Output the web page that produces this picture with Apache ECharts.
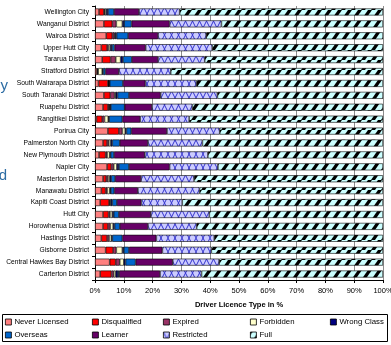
<!DOCTYPE html>
<html>
<head>
<meta charset="utf-8">
<script src="https://cdn.jsdelivr.net/npm/echarts@6/dist/echarts.min.js"></script>
<style>
  html, body { margin: 0; padding: 0; background: #fff; }
  #chart { width: 391px; height: 345px; }
</style>
</head>
<body>
<div id="chart"></div>
<script>
// Districts, top to bottom
const districts = [
  'Wellington City', 'Wanganui District', 'Wairoa District', 'Upper Hutt City',
  'Tararua District', 'Stratford District', 'South Wairarapa District',
  'South Taranaki District', 'Ruapehu District', 'Rangitikei District',
  'Porirua City', 'Palmerston North City', 'New Plymouth District', 'Napier City',
  'Masterton District', 'Manawatu District', 'Kapiti Coast District', 'Hutt City',
  'Horowhenua District', 'Hastings District', 'Gisborne District',
  'Central Hawkes Bay District', 'Carterton District'
];

// Share of each licence type, in %
const neverLicensed = [1.4, 3.1, 3.9, 2.2, 2.5, 0.7, 1.2, 3.1, 2.8, 0.5, 4.5, 2.8, 1.4, 4.2, 2.8, 2.2, 1.8, 2.8, 2.8, 2.2, 3.7, 5.1, 1.8];
const disqualified  = [1.7, 2.9, 2.1, 2.0, 2.9, 0.2, 3.3, 2.2, 1.7, 2.0, 3.8, 1.4, 2.3, 1.5, 1.1, 1.5, 3.1, 1.9, 1.7, 2.0, 2.6, 2.1, 3.9];
const expired       = [0.3, 1.4, 0.7, 0.5, 1.8, 0.2, 0.3, 1.5, 0.4, 0.8, 1.2, 0.6, 0.5, 0.8, 0.6, 0.5, 0.2, 0.5, 0.8, 0.7, 1.1, 1.4, 0.8];
const forbidden     = [0.5, 2.1, 0.3, 0.6, 1.7, 1.4, 0.0, 0.4, 0.2, 1.3, 1.0, 0.7, 0.9, 1.1, 0.6, 0.9, 0.4, 0.8, 1.0, 0.8, 2.1, 1.4, 0.7];
const wrongClass    = [0.6, 0.6, 0.5, 0.6, 0.8, 0.3, 0.3, 0.6, 0.4, 0.3, 0.4, 0.5, 0.3, 0.7, 0.5, 0.4, 0.5, 0.5, 0.5, 0.3, 0.5, 0.6, 0.8];
const overseas      = [2.1, 2.6, 4.0, 0.9, 3.1, 0.8, 4.6, 4.0, 4.8, 4.6, 1.7, 2.6, 1.2, 3.5, 1.4, 1.2, 1.6, 1.8, 1.8, 3.5, 1.8, 3.5, 0.4];
const learner       = [8.7, 13.2, 10.4, 10.8, 9.1, 4.7, 7.8, 11.0, 9.5, 6.2, 12.4, 9.8, 10.7, 14.1, 9.0, 8.2, 8.5, 11.1, 9.8, 11.8, 11.6, 12.9, 14.2];
const restricted    = [14.1, 18.0, 16.7, 23.1, 16.2, 18.0, 17.7, 19.7, 14.0, 17.0, 18.3, 18.9, 21.9, 16.8, 18.4, 21.4, 14.2, 20.3, 16.9, 20.1, 17.0, 16.1, 14.4];
const full          = [70.6, 56.1, 61.4, 59.3, 61.9, 73.7, 64.8, 57.5, 66.2, 67.3, 56.7, 62.7, 60.8, 57.3, 65.6, 63.7, 69.7, 60.3, 64.7, 58.6, 59.6, 56.9, 63.0];

const xTicks = [0, 10, 20, 30, 40, 50, 60, 70, 80, 90, 100];

const FONT = '"Liberation Sans", Arial, sans-serif';

// Fill patterns: lattice for Restricted, slanted stripes for Full
function latticePattern() {
  const c = document.createElement('canvas');
  c.width = 14; c.height = 14;
  const g = c.getContext('2d');
  g.fillStyle = '#CCCCFF';
  g.fillRect(0, 0, 14, 14);
  g.strokeStyle = '#3333CC';
  g.lineWidth = 1;
  g.beginPath();
  g.moveTo(0, 0); g.lineTo(7, 14); g.lineTo(14, 0);
  g.moveTo(0, 14); g.lineTo(7, 0); g.lineTo(14, 14);
  g.stroke();
  return c;
}
function stripePattern() {
  const c = document.createElement('canvas');
  c.width = 10; c.height = 10;
  const g = c.getContext('2d');
  g.fillStyle = '#CCFFFF';
  g.fillRect(0, 0, 10, 10);
  g.fillStyle = '#000';
  for (let k = -1; k <= 1; k++) {
    const o = k * 10;
    g.beginPath();
    g.moveTo(o + 1, 10); g.lineTo(o + 5, 10); g.lineTo(o + 12, 0); g.lineTo(o + 8, 0);
    g.closePath();
    g.fill();
  }
  return c;
}

const seriesDefs = [
  { name: 'Never Licensed', data: neverLicensed, color: '#FF8080' },
  { name: 'Disqualified',   data: disqualified,  color: '#FF0000' },
  { name: 'Expired',        data: expired,       color: '#993366' },
  { name: 'Forbidden',      data: forbidden,     color: '#FFFFCC' },
  { name: 'Wrong Class',    data: wrongClass,    color: '#000080' },
  { name: 'Overseas',       data: overseas,      color: '#0066CC' },
  { name: 'Learner',        data: learner,       color: '#660066' },
  { name: 'Restricted',     data: restricted,    color: { image: latticePattern(), repeat: 'repeat' } },
  { name: 'Full',           data: full,          color: { image: stripePattern(), repeat: 'repeat' } }
];

// Legend slots: two rows, five columns
const legendPos = [
  [5, 318], [92, 318], [163, 318], [250, 318], [330, 318],
  [5, 331], [92, 331], [163, 331], [250, 331]
];

const chart = echarts.init(document.getElementById('chart'), null, { renderer: 'canvas' });

chart.setOption({
  animation: false,
  backgroundColor: '#fff',
  textStyle: { fontFamily: FONT },
  grid: { left: 95, right: 8, top: 6, bottom: 65, containLabel: false, outerBoundsMode: 'none' },
  xAxis: {
    type: 'value',
    min: xTicks[0],
    max: xTicks[xTicks.length - 1],
    interval: 10,
    name: 'Driver Licence Type in %',
    nameLocation: 'middle',
    nameGap: 21,
    nameTextStyle: { fontFamily: FONT, fontSize: 7.5, fontWeight: 'bold', color: '#000' },
    axisLine: { show: true, lineStyle: { color: '#000', width: 1 } },
    axisTick: { show: true, length: 3, lineStyle: { color: '#000' } },
    axisLabel: { formatter: '{value}%', fontSize: 7.5, color: '#000', margin: 7, fontFamily: FONT },
    splitLine: { show: true, lineStyle: { color: '#8C8C8C', width: 1 } }
  },
  yAxis: {
    type: 'category',
    inverse: true,
    data: districts,
    axisLine: { show: true, lineStyle: { color: '#000', width: 1 } },
    axisTick: { show: true, length: 3, lineStyle: { color: '#000' } },
    axisLabel: { fontSize: 6.7, color: '#000', margin: 6, fontFamily: FONT },
    splitLine: { show: false }
  },
  legend: seriesDefs.map((s, i) => ({
    data: [s.name],
    left: legendPos[i][0],
    top: legendPos[i][1],
    orient: 'horizontal',
    padding: 0,
    itemWidth: 6,
    itemHeight: 6,
    itemGap: 0,
    icon: 'rect',
    selectedMode: false,
    itemStyle: { borderColor: '#000', borderWidth: 0.8 },
    textStyle: { fontSize: 7.8, color: '#000', fontFamily: FONT, padding: [0, 0, 0, -2] }
  })),
  graphic: [
    {
      type: 'rect',
      shape: { x: 2.5, y: 314.5, width: 385, height: 27 },
      style: { fill: null, stroke: '#000', lineWidth: 1 },
      silent: true
    },
    {
      type: 'text',
      right: 383, top: 78,
      style: { text: 'y', font: '15px ' + FONT, fill: '#2E6DA4', textAlign: 'right' }
    },
    {
      type: 'text',
      right: 384, top: 168,
      style: { text: 'd', font: '15px ' + FONT, fill: '#2E6DA4', textAlign: 'right' }
    }
  ],
  series: seriesDefs.map(s => ({
    name: s.name,
    type: 'bar',
    stack: 'licence',
    barWidth: 7,
    data: s.data,
    itemStyle: { color: s.color, borderColor: '#000', borderWidth: 0.6 },
    emphasis: { disabled: true }
  }))
});
</script>
</body>
</html>
